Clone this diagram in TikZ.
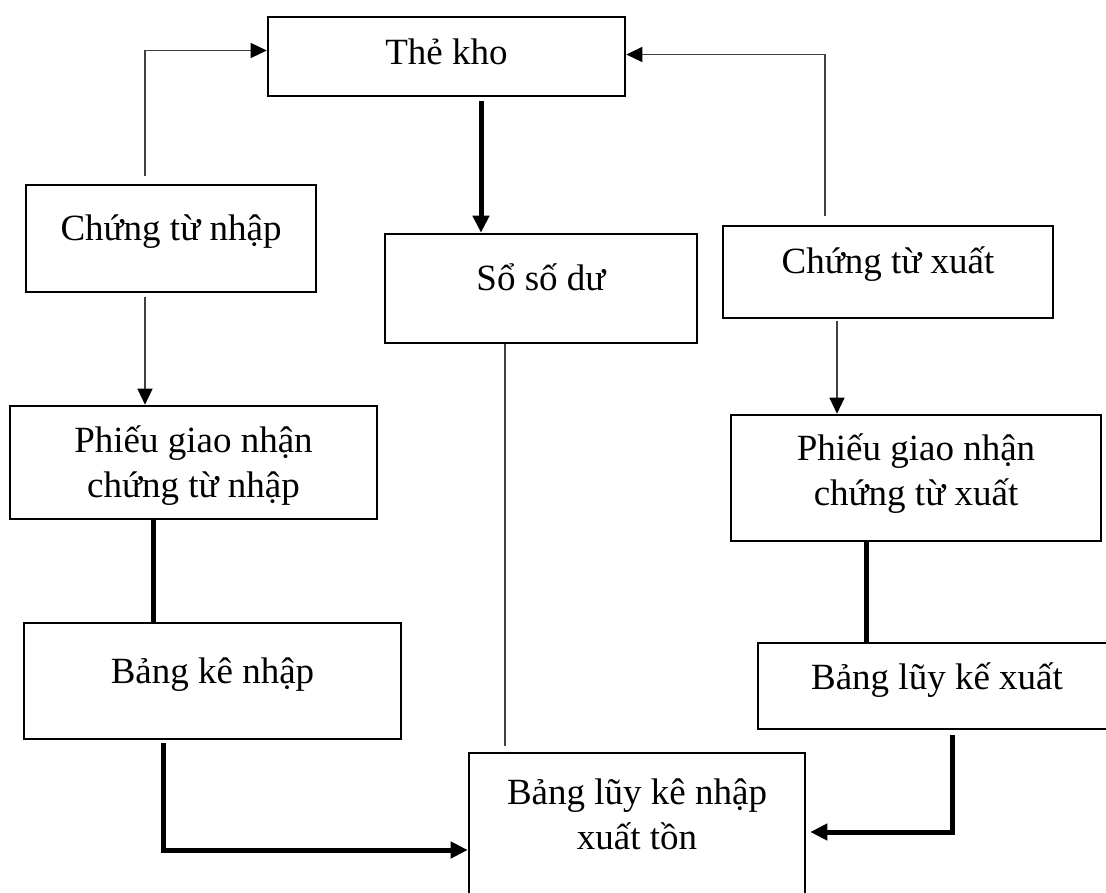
\documentclass[tikz,border=0pt]{standalone}
\usepackage{fontspec}
\setmainfont{Liberation Serif}
\usetikzlibrary{arrows.meta}
\begin{document}
\begin{tikzpicture}[x=1pt,y=-1pt,
  box/.style={draw=black, line width=2.6pt, rectangle, inner sep=0pt, font=\fontsize{37}{45}\selectfont},
  thinln/.style={draw=black!75, line width=1.3pt},
  thinarrow/.style={thinln, -{Triangle[length=16pt,width=15pt,color=black]}},
  thickln/.style={draw=black, line width=5pt},
  thickarrow/.style={thickln, -{Triangle[length=17pt,width=16pt]}},
]
\useasboundingbox (0,0) rectangle (1106,892);
\clip (0,0) rectangle (1106,892);
\fill[white] (0,0) rectangle (1106,892);

\node[box, minimum width=357pt, minimum height=79pt, text height=35pt, text depth=20pt] (tk) at (446.5,56.5) {Thẻ kho};
\node[box, minimum width=290pt, minimum height=107pt, text height=32.5pt, text depth=28.5pt] (ctn) at (171,238.5) {Chứng từ nhập};
\node[box, minimum width=312pt, minimum height=109pt, text height=32.5pt, text depth=28.5pt] (ssd) at (541,288.5) {Sổ số dư};
\node[box, minimum width=330pt, minimum height=92pt, text height=32pt, text depth=29pt] (ctx) at (888,272) {Chứng từ xuất};
\node[box, minimum width=367pt, minimum height=113pt, text height=80pt, text depth=10pt] (pn) at (193.5,462.5) {\begin{tabular}[b]{@{}c@{}}Phiếu giao nhận\\chứng từ nhập\end{tabular}};
\node[box, minimum width=370pt, minimum height=126pt, text height=65pt, text depth=10pt] (px) at (916,478) {\begin{tabular}[b]{@{}c@{}}Phiếu giao nhận\\chứng từ xuất\end{tabular}};
\node[box, minimum width=377pt, minimum height=116pt, text height=33pt, text depth=28pt] (bkn) at (212.5,681) {Bảng kê nhập};
\node[box, minimum width=358pt, minimum height=86pt, text height=34pt, text depth=27pt] (blkx) at (937,686) {Bảng lũy kế xuất};
\node[box, minimum width=336pt, minimum height=152pt, text height=51pt, text depth=10pt] (btm) at (637,829) {\begin{tabular}[b]{@{}c@{}}Bảng lũy kê nhập\\xuất tồn\end{tabular}};

\coordinate (xL) at (145,0);
\coordinate (xR) at (825,0);
\coordinate (xM) at (481,0);
\coordinate (xS) at (505,0);
\coordinate (xX) at (837,0);
\coordinate (xP) at (153,0);
\coordinate (xQ) at (866,0);
\coordinate (xB) at (163,0);
\coordinate (xK) at (952,0);

\draw[thinarrow] ([yshift=8pt]ctn.north -| xL) |- ([yshift=6pt]tk.west);
\draw[thinarrow] ([yshift=9pt]ctx.north -| xR) |- ([yshift=2pt]tk.east);
\draw[thickarrow] ([yshift=-4pt]tk.south -| xM) -- (ssd.north -| xM);
\draw[thinarrow] ([yshift=-4pt]ctn.south -| xL) -- (pn.north -| xL);
\draw[thinarrow] ([yshift=-2pt]ctx.south -| xX) -- (px.north -| xX);
\draw[thickln] (pn.south -| xP) -- (bkn.north -| xP);
\draw[thickln] (px.south -| xQ) -- (blkx.north -| xQ);
\draw[thinln] (ssd.south -| xS) -- ([yshift=6pt]btm.north -| xS);
\draw[thickarrow] ([yshift=-3pt]bkn.south -| xB) |- ([yshift=-21pt]btm.west);
\draw[thickarrow, shorten >=4pt] ([yshift=-5pt]blkx.south -| xK) |- ([yshift=-3pt]btm.east);
\end{tikzpicture}
\end{document}
